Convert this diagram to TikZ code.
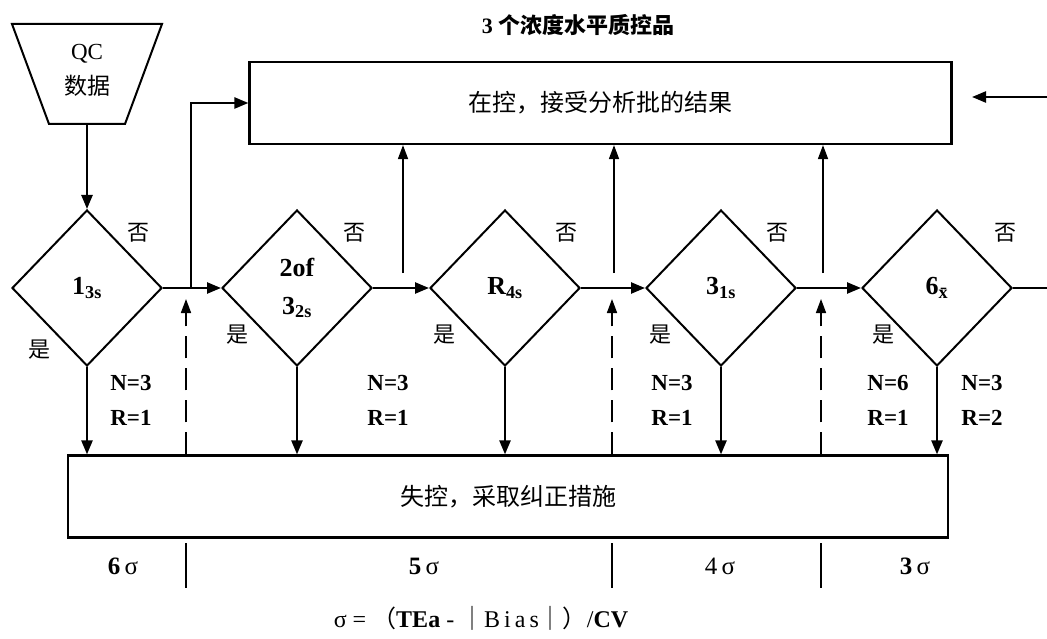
\documentclass[tikz,border=0pt]{standalone}
\usepackage{fontspec}
\setmainfont{Liberation Serif}
\newfontfamily\cjk{Noto Sans CJK SC}
\usetikzlibrary{arrows.meta,shapes.geometric}

\tikzset{
  rule/.style={draw,diamond,aspect=1,line width=2pt,minimum width=150pt,
    minimum height=156pt,inner sep=0pt,align=center,
    font=\bfseries\fontsize{26}{38}\selectfont},
  panel/.style={draw,line width=2.2pt,inner sep=0pt,
    font=\cjk\fontsize{24}{28}\selectfont},
  yn/.style={font=\cjk\fontsize{22}{24}\selectfont},
  nr/.style={align=left,font=\bfseries\fontsize{23}{35}\selectfont},
  sig/.style={font=\fontsize{25}{28}\selectfont},
  flow/.style={line width=2.4pt,-{Triangle[length=14pt,width=11pt]}},
  up/.style={line width=1.6pt,-{Triangle[length=14pt,width=10pt]}},
  back/.style={line width=1.6pt,dash pattern=on 22pt off 10pt,
    -{Triangle[length=14pt,width=10pt]}},
}

\begin{document}
\begin{tikzpicture}[x=1pt,y=-1pt]
\useasboundingbox (0,0) rectangle (1047,639);

% title and data source
\node[font=\bfseries\fontsize{22}{24}\selectfont] (title) at (578,25) {3 {\cjk 个浓度水平质控品}};
\draw[line width=2pt] (12,24) -- (162,24) -- (125,124) -- (49,124) -- cycle;
\node[align=center,font=\fontsize{23}{35}\selectfont] (qc) at (87,70) {QC\\{\cjk 数据}};
\coordinate (qcb) at (87,124);

% result boxes
\node[panel,minimum width=702pt,minimum height=82pt] (ok) at (600.5,103) {在控，接受分析批的结果};
\node[panel,minimum width=880pt,minimum height=82pt] (ooc) at (508,496.5) {失控，采取纠正措施};

% rules
\node[rule] (d1) at (87,288) {1\textsubscript{3s}};
\node[rule] (d2) at (297,288) {2of\\3\textsubscript{2s}};
\node[rule] (d3) at (505,288) {R\textsubscript{4s}};
\node[rule] (d4) at (721,288) {3\textsubscript{1s}};
\node[rule] (d5) at (937,288) {6\textsubscript{\=x}};

\draw[flow] (qcb) -- (d1.north);
\draw[flow] (d1.east) -- (d2.west);
\draw[flow] (d2.east) -- (d3.west);
\draw[flow] (d3.east) -- (d4.west);
\draw[flow] (d4.east) -- (d5.west);
\coordinate (rout) at (1047,288);
\draw[line width=2.4pt] (d5.east) -- (rout);
\draw[flow] (d1.east) ++(28,0) |- (ok.west);
\coordinate (rin) at (1047,97);
\draw[flow] (rin) -- ++(-75,0);

% back to in control
\foreach \x/\n in {403/u1,614/u2,823/u3}{
  \coordinate (\n) at (\x,273);
  \draw[up] (\n) -- (\n |- ok.south);
}

% out of control
\foreach \n in {d1,d2,d3,d4,d5}
  \draw[flow] (\n.south) -- (\n.south |- ooc.north);
\foreach \x/\n in {186/t1,612/t2,821/t3}{
  \coordinate (\n) at (\x,299);
  \draw[back] (\n |- ooc.north) -- (\n);
  \draw[line width=1.6pt] (\x,543) -- (\x,588);
}

% yes / no
\foreach \x/\n in {138/n1,354/n2,566/n3,777/n4,1005/n5}
  \node[yn] (\n) at (\x,233) {否};
\node[yn] (y1) at (39,350) {是};
\foreach \x/\n in {237/y2,444/y3,660/y4,883/y5}
  \node[yn] (\n) at (\x,335) {是};

% runs
\node[nr] (r1) at (131,400) {N=3\\R=1};
\node[nr] (r2) at (388,400) {N=3\\R=1};
\node[nr] (r4) at (672,400) {N=3\\R=1};
\node[nr] (r5) at (888,400) {N=6\\R=1};
\node[nr] (r6) at (982,400) {N=3\\R=2};

% sigma scale
\node[sig] (s6) at (123,566) {\textbf{6}\,σ};
\node[sig] (s5) at (424,566) {\textbf{5}\,σ};
\node[sig] (s4) at (720,566) {4\,σ};
\node[sig] (s3) at (915,566) {\textbf{3}\,σ};
\node[font=\fontsize{24}{26}\selectfont] (eq) at (481,618)
  {σ = {\cjk （}\textbf{TEa} - {\cjk ｜}B\,i\,a\,s{\cjk ｜）}/\textbf{CV}};
\end{tikzpicture}
\end{document}
